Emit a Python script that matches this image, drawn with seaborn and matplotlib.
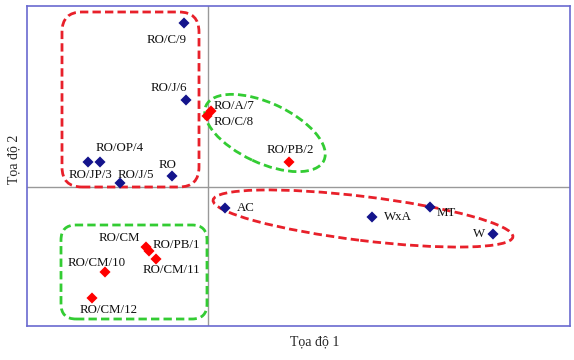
import matplotlib
matplotlib.use("Agg")
import matplotlib.pyplot as plt
import seaborn as sns
import pandas as pd
from matplotlib.patches import Ellipse, FancyBboxPatch

labels = ["RO/C/9", "RO/J/6", "RO/OP/4", "RO/JP/3", "RO/J/5", "RO",
          "RO/A/7", "RO/C/8", "RO/PB/2",
          "AC", "WxA", "MT", "W",
          "RO/CM", "RO/PB/1", "RO/CM/11", "RO/CM/10", "RO/CM/12"]
coord1 = [-0.24, -0.22, -1.08, -1.20, -0.88, -0.36,
          0.03, -0.01, 0.81,
          0.17, 1.64, 2.22, 2.85,
          -0.62, -0.59, -0.52, -1.03, -1.16]
coord2 = [1.64, 0.87, 0.25, 0.25, 0.04, 0.11,
          0.76, 0.71, 0.25,
          -0.21, -0.30, -0.20, -0.47,
          -0.60, -0.64, -0.72, -0.85, -1.11]
group = ["blue"] * 6 + ["red"] * 3 + ["blue"] * 4 + ["red"] * 5

# label offsets in pixels and alignment
offsets = {
    "RO/C/9": (3, -17, "right"), "RO/J/6": (1, 12, "right"),
    "RO/OP/4": (-4, 14, "left"), "RO/JP/3": (2, -13, "center"),
    "RO/J/5": (-2, 8, "left"), "RO": (-4, 11, "center"),
    "RO/A/7": (3, 5, "left"), "RO/C/8": (7, -6, "left"),
    "RO/PB/2": (1, 12, "center"), "AC": (12, 0, "left"),
    "WxA": (12, 0, "left"), "MT": (7, -6, "left"), "W": (-8, 0, "right"),
    "RO/CM": (-6, 9, "right"), "RO/PB/1": (4, 6, "left"),
    "RO/CM/11": (15, -11, "center"), "RO/CM/10": (-8, 9, "center"),
    "RO/CM/12": (17, -12, "center"),
}

df = pd.DataFrame({"label": labels, "c1": coord1, "c2": coord2, "g": group})

sns.set_style("white")
plt.rcParams["font.family"] = ["Liberation Serif", "DejaVu Serif"]

fig = plt.figure(figsize=(5.74, 3.60), dpi=100)
ax = fig.add_axes([27 / 574, 34 / 360, 543 / 574, 320 / 360])

ax.axhline(0, color="#999999", lw=1, zorder=1)
ax.axvline(0, color="#999999", lw=1, zorder=1)

sns.scatterplot(data=df, x="c1", y="c2", hue="g",
                palette={"blue": "#14148c", "red": "#ff0000"},
                marker="D", s=32, edgecolor="none", legend=False, ax=ax, zorder=3)

for lab, x, y in zip(labels, coord1, coord2):
    dx, dy, ha = offsets[lab]
    ax.annotate(lab, (x, y), xytext=(dx, dy), textcoords="offset pixels",
                ha=ha, va="center", fontsize=9.3, color="#111111")

red = "#e8202a"
green = "#33cc33"
ax.add_patch(FancyBboxPatch((-1.46, 0.0), 1.37, 1.75,
                            boxstyle="round,pad=0,rounding_size=0.2",
                            fill=False, ec=red, lw=2, ls=(0, (3, 1.5)), zorder=2))
ax.add_patch(FancyBboxPatch((-1.47, -1.32), 1.46, 0.94,
                            boxstyle="round,pad=0,rounding_size=0.15",
                            fill=False, ec=green, lw=2, ls=(0, (3, 1.5)), zorder=2))
ax.add_patch(Ellipse((0.57, 0.54), 1.30, 0.60, angle=-25,
                     fill=False, ec=green, lw=2, ls=(0, (3, 1.5)), zorder=2))
ax.add_patch(Ellipse((1.55, -0.315), 3.02, 0.44, angle=-7,
                     fill=False, ec=red, lw=2, ls=(0, (3, 1.5)), zorder=2))

ax.set_xlim(-1.81, 3.62)
ax.set_ylim(-1.39, 1.81)
ax.set_xticks([])
ax.set_yticks([])
ax.set_xlabel("Tọa độ 1", fontsize=10)
ax.set_ylabel("Tọa độ 2", fontsize=10)
ax.xaxis.set_label_coords(0.53, -0.028)
ax.yaxis.set_label_coords(-0.012, 0.52)
for sp in ax.spines.values():
    sp.set_color("#6a6ad0")
    sp.set_linewidth(1.2)

fig.savefig("out.png", dpi=100)
